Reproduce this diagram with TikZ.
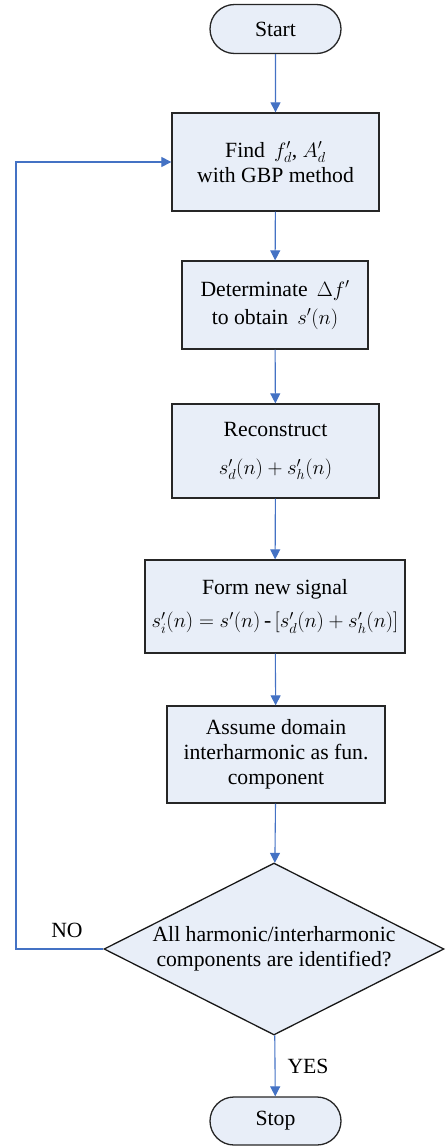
\documentclass[tikz,border=0pt]{standalone}
\usepackage{fontspec}
\setmainfont{Liberation Serif}
\usetikzlibrary{arrows.meta,shapes.geometric,shapes.misc}
\definecolor{boxFill}{RGB}{232,238,248}
\definecolor{arrowBlue}{RGB}{68,114,196}
\newcommand{\pFlowText}[1]{\fontsize{21.7}{25}\selectfont #1}

\begin{document}
\begin{tikzpicture}[x=1pt,y=-1pt,
  termbox/.style={draw=black!85, line width=1.3pt, fill=boxFill, rounded rectangle, minimum width=131pt, minimum height=49pt, inner sep=0pt, font=\pFlowText},
  procbox/.style={draw=black!85, line width=1.3pt, fill=boxFill, align=center, inner sep=0pt, font=\pFlowText},
  decbox/.style={draw=black!90, line width=1.3pt, fill=boxFill, diamond, aspect=2, align=center, inner sep=0pt, minimum width=340pt, minimum height=172pt, font=\pFlowText},
  flowarrow/.style={draw=arrowBlue, line width=1.1pt, -{Triangle[length=10pt,width=10pt]}},
  sidelabel/.style={font=\pFlowText, inner sep=0pt}]
\useasboundingbox (0,0) rectangle (445,1148);
\node[termbox] (start) at (275.5,29) {Start};
\node[procbox, minimum width=207pt, minimum height=98pt] (find) at (275.5,162) {Find\, $f_d'$, $A_d'$\\with GBP method};
\node[procbox, minimum width=186pt, minimum height=88pt] (determ) at (275,305) {Determinate\, $\Delta f'$\\[3pt]to obtain\, $s'(n)$};
\node[procbox, minimum width=207pt, minimum height=94pt] (recon) at (275.5,451) {Reconstruct\\[13pt]$s_d'(n)+s_h'(n)$};
\node[procbox, minimum width=260pt, minimum height=93pt] (form) at (275,606.5) {Form new signal\\[8pt]$s_i'(n)=s'(n)\,\mbox{-}\,[s_d'(n)+s_h'(n)]$};
\node[procbox, minimum width=218pt, minimum height=97pt] (assume) at (276,754.5) {Assume domain\\interharmonic as fun.\\component};
\node[decbox] (check) at (274,949) {All harmonic/interharmonic\\components are identified?};
\node[termbox, minimum height=48pt] (stop) at (275.5,1121) {Stop};
\coordinate (loopbot) at (16,949);
\coordinate (looptop) at (16,162);
\draw[flowarrow] (start) -- (find);
\draw[flowarrow] (find) -- (determ);
\draw[flowarrow] (determ) -- (recon);
\draw[flowarrow] (recon) -- (form);
\draw[flowarrow] (form) -- (assume);
\draw[flowarrow] (assume) -- (check);
\draw[flowarrow] (check) -- (stop);
\draw[flowarrow] (check.west) -- (loopbot) -- (looptop) -- (find.west);
\node[sidelabel] (nolabel) at (67,930) {NO};
\node[sidelabel] (yeslabel) at (308,1066) {YES};
\end{tikzpicture}
\end{document}
